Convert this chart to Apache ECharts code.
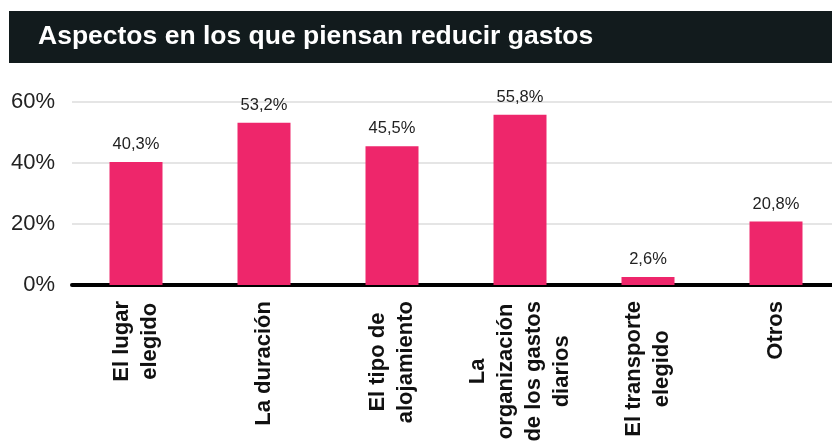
<!DOCTYPE html>
<html>
<head>
<meta charset="utf-8">
<script src="https://cdn.jsdelivr.net/npm/echarts@6/dist/echarts.min.js"></script>
<style>
  html, body { margin: 0; padding: 0; background: #fff; }
  #chart { width: 832px; height: 441px; }
</style>
</head>
<body>
<div id="chart"></div>
<script>
const titleText = 'Aspectos en los que piensan reducir gastos';
const categories = [
  'El lugar\nelegido',
  'La duración',
  'El tipo de\nalojamiento',
  'La\norganización\nde los gastos\ndiarios',
  'El transporte\nelegido',
  'Otros'
];
const values = [40.3, 53.2, 45.5, 55.8, 2.6, 20.8];
const yTicks = [0, 20, 40, 60];

const FONT = '"Liberation Sans", Arial, Helvetica, sans-serif';
const chart = echarts.init(document.getElementById('chart'));

const option = {
  animation: false,
  backgroundColor: '#ffffff',
  graphic: [{
    type: 'rect',
    left: 9, top: 11,
    shape: { width: 823, height: 52 },
    style: { fill: '#121b1d' },
    z: 0
  }],
  title: {
    text: titleText,
    left: 38, top: 23,
    padding: 0,
    textStyle: { color: '#ffffff', fontSize: 26.5, fontWeight: 'bold', fontFamily: FONT }
  },
  grid: { left: 72, width: 768, top: 102, bottom: 156, containLabel: false, outerBoundsMode: 'none' },
  xAxis: {
    type: 'category',
    data: categories,
    axisLine: { lineStyle: { color: '#000000', width: 4 } },
    axisTick: { show: false },
    axisLabel: {
      rotate: 90,
      margin: 16,
      interval: 0,
      formatter: (v) => v.split('\n').map(l => '{c|' + l + '}').join('\n'),
      rich: {
        c: { align: 'center', fontSize: 22, fontWeight: 'bold', lineHeight: 28, color: '#111111', fontFamily: FONT }
      }
    }
  },
  yAxis: {
    type: 'value',
    min: 0, max: 60, interval: 20,
    axisLine: { show: false },
    axisTick: { show: false },
    axisLabel: {
      formatter: (v) => yTicks.includes(v) ? v + '%' : '',
      color: '#222222', fontSize: 22, margin: 17, fontFamily: FONT
    },
    splitLine: { lineStyle: { color: '#dcdcdc', width: 1.5 } }
  },
  series: [{
    type: 'bar',
    data: values,
    barWidth: 53,
    itemStyle: { color: '#ee266b' },
    label: {
      show: true,
      position: 'top',
      distance: 9,
      formatter: (p) => p.value.toFixed(1).replace('.', ',') + '%',
      color: '#222222', fontSize: 16.5, fontFamily: FONT
    }
  }]
};

chart.setOption(option);
</script>
</body>
</html>
